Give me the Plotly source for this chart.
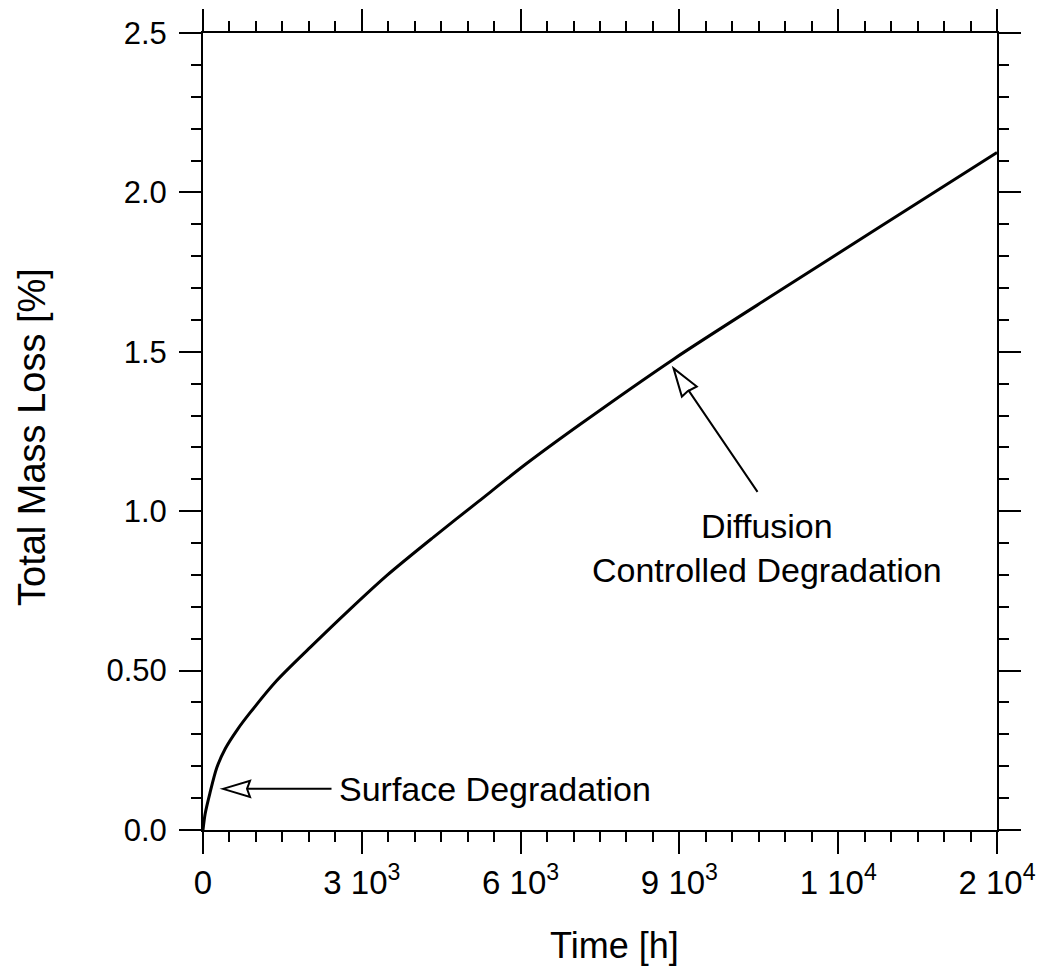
import plotly.graph_objects as go

# Data
time_h = [0, 40, 130, 260, 420, 650, 890, 1390, 2020, 2780, 3470, 4350, 5200,
          6100, 7120, 8890, 10900, 12790, 15000]
mass_loss = [0.0, 0.05, 0.115, 0.195, 0.255, 0.315, 0.368, 0.468, 0.572, 0.693,
             0.798, 0.918, 1.030, 1.148, 1.272, 1.477, 1.692, 1.892, 2.125]

x_tickvals = [0, 3000, 6000, 9000, 12000, 15000]
x_ticktext = ["0", "3 10<sup>3</sup>", "6 10<sup>3</sup>", "9 10<sup>3</sup>",
              "1 10<sup>4</sup>", "2 10<sup>4</sup>"]
y_tickvals = [0, 0.5, 1.0, 1.5, 2.0, 2.5]
y_ticktext = ["0.0", "0.50", "1.0", "1.5", "2.0", "2.5"]

FONT = "Liberation Sans, Arial, Helvetica, sans-serif"

fig = go.Figure()
fig.add_trace(go.Scatter(x=time_h, y=mass_loss, mode="lines",
                         line=dict(color="black", width=3, shape="spline", smoothing=0.8),
                         showlegend=False, hoverinfo="skip"))

axis_common = dict(showline=True, linecolor="black", linewidth=2, mirror="allticks",
                   ticks="outside", ticklen=22, tickwidth=2, tickcolor="black",
                   showgrid=False, zeroline=False, automargin=False)

fig.update_xaxes(range=[0, 15000], tickmode="array", tickvals=x_tickvals, ticktext=x_ticktext,
                 tickfont=dict(family=FONT, size=33, color="black"),
                 minor=dict(dtick=500, ticks="outside", ticklen=10, tickwidth=2,
                            tickcolor="black", showgrid=False),
                 **axis_common)
fig.update_yaxes(range=[0, 2.5], tickmode="array", tickvals=y_tickvals, ticktext=y_ticktext,
                 tickfont=dict(family=FONT, size=31, color="black"),
                 ticklabelstandoff=6,
                 minor=dict(dtick=0.1, ticks="outside", ticklen=10, tickwidth=2,
                            tickcolor="black", showgrid=False),
                 **axis_common)

# Annotation arrows (shafts); heads drawn as open triangles below
surf_tip = (378, 0.129)
surf_tail = (2456, 0.129)
diff_tip = (8890, 1.448)
diff_tail = (10495, 1.056)

fig.add_annotation(x=surf_tip[0], y=surf_tip[1], ax=surf_tail[0], ay=surf_tail[1],
                   xref="x", yref="y", axref="x", ayref="y", text="",
                   showarrow=True, arrowhead=0, arrowwidth=2, arrowcolor="black", standoff=25)
fig.add_annotation(x=diff_tip[0], y=diff_tip[1], ax=diff_tail[0], ay=diff_tail[1],
                   xref="x", yref="y", axref="x", ayref="y", text="",
                   showarrow=True, arrowhead=0, arrowwidth=2, arrowcolor="black", standoff=26)

# open triangular arrowheads (pixel-sized, anchored at the tips)
fig.add_shape(type="path", xref="x", yref="y", xsizemode="pixel", ysizemode="pixel",
              xanchor=surf_tip[0], yanchor=surf_tip[1],
              path="M 0,0 L 27,8 L 24,0 L 27,-8 Z",
              line=dict(color="black", width=2), fillcolor="white")
fig.add_shape(type="path", xref="x", yref="y", xsizemode="pixel", ysizemode="pixel",
              xanchor=diff_tip[0], yanchor=diff_tip[1],
              path="M 0,0 L 23.2,-18.1 L 14,-23 L 8.3,-28.2 Z",
              line=dict(color="black", width=2), fillcolor="white")

fig.add_annotation(x=2530, y=0.129, xref="x", yref="y", text="Surface Degradation",
                   showarrow=False, xanchor="left", yanchor="middle",
                   font=dict(family=FONT, size=34, color="black"))
fig.add_annotation(x=10656, y=0.885, xref="x", yref="y",
                   text="Diffusion<br>Controlled Degradation",
                   showarrow=False, xanchor="center", yanchor="middle", align="center",
                   font=dict(family=FONT, size=34, color="black"))

# axis titles
fig.add_annotation(x=(614 - 203) / 794, y=-0.145, xref="paper", yref="paper",
                   text="Time [h]", showarrow=False, xanchor="center", yanchor="middle",
                   font=dict(family=FONT, size=36, color="black"))
fig.add_annotation(x=(32 - 203) / 794, y=(830 - 437) / 797, xref="paper", yref="paper",
                   text="Total Mass Loss [%]", showarrow=False, textangle=-90,
                   xanchor="center", yanchor="middle",
                   font=dict(family=FONT, size=38, color="black"))

fig.update_layout(width=1039, height=973,
                  margin=dict(l=203, r=42, t=33, b=143),
                  paper_bgcolor="white", plot_bgcolor="white",
                  showlegend=False)

fig.write_html("out.html")
